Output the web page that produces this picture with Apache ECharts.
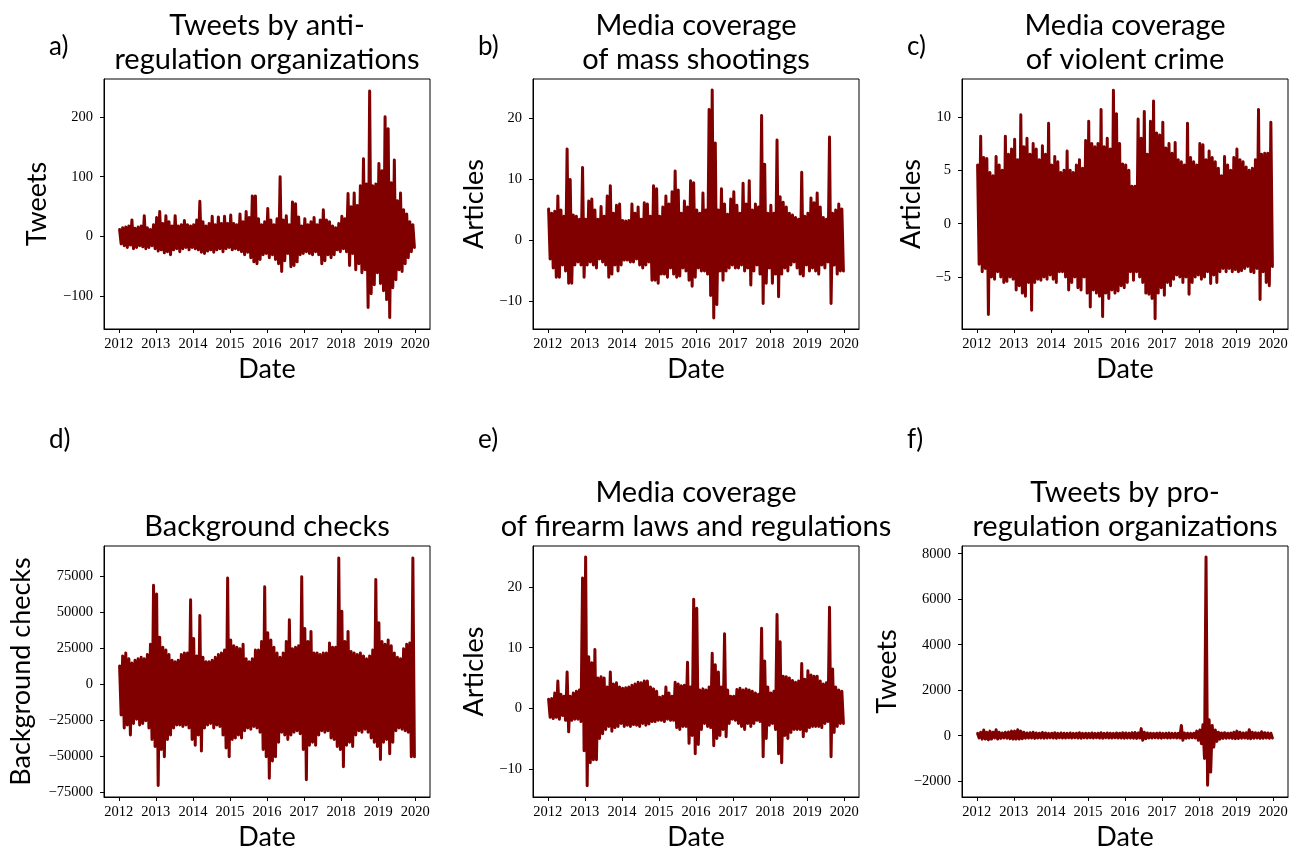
<!DOCTYPE html>
<html>
<head>
<meta charset="utf-8">
<title>Daily series, 2012-2020</title>
<script src="https://cdn.jsdelivr.net/npm/echarts@6/dist/echarts.min.js"></script>
<style>
  html, body { margin: 0; padding: 0; background: #fff; }
  #chart { width: 1301px; height: 854px; }
</style>
</head>
<body>
<div id="chart"></div>
<script>
// x tick labels (years)
const yearTicks = [2012, 2013, 2014, 2015, 2016, 2017, 2018, 2019, 2020];
const firstYear = 2012;

// monthly upper / lower envelope of each daily series, Jan 2012 .. Dec 2019
const antiTweetsHigh = [
  12, 15, 16, 18, 28, 14, 16, 18, 35, 15, 12, 20,
  32, 42, 22, 35, 25, 18, 35, 18, 20, 27, 20, 18,
  20, 28, 59, 25, 18, 22, 34, 20, 33, 22, 34, 22,
  36, 22, 20, 38, 25, 42, 32, 68, 68, 30, 20, 25,
  47, 28, 20, 30, 100, 28, 35, 20, 58, 55, 33, 18,
  30, 20, 25, 32, 20, 28, 45, 28, 25, 18, 15, 22,
  34, 30, 72, 50, 73, 52, 85, 130, 88, 243, 85, 88,
  122, 110, 200, 180, 90, 128, 60, 73, 45, 38, 25, 20
];
const antiTweetsLow = [
  -12, -15, -18, -14, -20, -18, -15, -17, -20, -18, -15, -20,
  -24, -22, -27, -25, -30, -22, -20, -25, -20, -18, -22, -18,
  -20, -22, -26, -28, -24, -22, -26, -22, -20, -25, -20, -18,
  -22, -20, -22, -25, -30, -26, -35, -42, -45, -38, -30, -28,
  -35, -30, -38, -45, -58, -40, -28, -50, -48, -42, -30, -28,
  -25, -28, -30, -25, -30, -45, -40, -30, -35, -30, -22, -25,
  -20, -25, -48, -28, -55, -45, -60, -55, -118, -95, -80, -60,
  -78, -90, -105, -135, -85, -72, -55, -58, -45, -35, -25, -18
];

const shootingsHigh = [
  5.2, 4.5, 4.8, 7.3, 5, 4, 15, 10, 4.2, 4, 3.5, 12,
  3.5, 6.5, 6.8, 5, 3.5, 5.6, 4, 7.3, 9, 4.5, 5.8, 6,
  3.3, 3.2, 3.3, 6, 4.5, 5.5, 3.5, 6.2, 6, 4, 9, 8.5,
  4, 5.5, 7.3, 6, 8, 11.4, 8.3, 4.5, 6.5, 5.5, 9.8, 9.5,
  5, 4.5, 7.8, 5, 21.5, 24.7, 16, 5, 8.5, 6, 4.3, 6.8,
  8, 5.8, 4.5, 9.4, 6, 9.8, 5, 6, 5.5, 20.5, 12.5, 4.5,
  5.8, 4.5, 16.5, 7.2, 6.3, 5.5, 4.5, 4.2, 3.8, 3.5, 11.2, 4,
  4.5, 7, 6.2, 7.8, 5.5, 3.8, 3.5, 17, 4.5, 5, 6, 5.2
];
const shootingsLow = [
  -3, -4.5, -6, -6, -4, -5, -7, -7, -4, -3.5, -4, -6,
  -4, -3.5, -4, -4.5, -3, -3.5, -4, -6, -5.5, -4, -5, -4,
  -3.2, -3.2, -3.5, -3.5, -3, -4, -4.5, -4, -3.5, -6.5, -6.5, -7,
  -5.5, -5.5, -6, -4.5, -5.5, -6, -5.8, -4.5, -5, -6.5, -7.5, -6,
  -4.5, -5, -5, -5.5, -9, -12.7, -10.5, -5, -6.5, -5, -4.5, -4,
  -4.5, -4.5, -4, -5, -4.5, -7.3, -5, -4, -5.5, -10.3, -7, -4.5,
  -7, -5.5, -9.2, -5.5, -4.5, -5, -4, -3.5, -4.5, -5.5, -5.8, -4,
  -5, -4.5, -5, -5.5, -4, -4.5, -3.5, -10.3, -4, -5.5, -5, -5
];

const crimeHigh = [
  5.5, 8.2, 6.2, 6.1, 4.8, 4.5, 6.3, 5.5, 5, 8.2, 6.5, 7,
  7.9, 6, 10.2, 7.2, 8, 6.5, 7.5, 7, 6, 7.3, 6.5, 9.4,
  5.5, 6.3, 5.8, 4.8, 5, 6.8, 5, 4.8, 5.5, 6, 5.2, 7.8,
  9.6, 7.5, 7.2, 7.5, 10.7, 7.2, 8, 7, 12.5, 10.3, 7.5, 5.6,
  5.5, 5, 3.5, 3.5, 9.8, 8, 10.5, 6.5, 9.6, 11.5, 8.5, 8.3,
  9.5, 7.1, 7.5, 6.6, 7.6, 6, 5.8, 5.5, 9.4, 6.2, 5.8, 5.5,
  7.5, 7.4, 6, 6.8, 6.2, 5.8, 5.2, 4.5, 6.3, 5.5, 5, 6.2,
  7, 6, 5.8, 5.3, 5, 5.2, 6, 10.7, 6.5, 6.6, 6.6, 9.5
];
const crimeLow = [
  -3.8, -4.5, -4.2, -8.5, -5, -5.2, -4.5, -5, -5.5, -5.4, -5, -5.2,
  -6.2, -5.8, -6.5, -6.8, -5.5, -8.1, -5.5, -5.2, -5.3, -5, -5.2, -4.8,
  -5.2, -5.5, -4.5, -4.5, -5, -6.2, -5.5, -5, -6, -6.2, -5, -6.5,
  -7.8, -6.2, -6.5, -6.8, -8.7, -6.5, -7, -6.2, -6.5, -6.3, -5.8, -6,
  -5.5, -4.5, -5.3, -4.5, -5, -5.5, -6.5, -6.6, -7, -8.9, -6.5, -6,
  -6.7, -5.5, -5.8, -5.2, -4.8, -5, -5.5, -5, -6.6, -5.5, -5, -4.8,
  -5.2, -5, -4.5, -5.6, -4.8, -5.5, -4.5, -4.2, -4.5, -4.2, -4.5, -4.3,
  -4.5, -4.4, -4.2, -4, -4.5, -4.6, -4.2, -7.1, -4.5, -5.5, -5.8, -4
];

const checksHigh = [
  13000, 20000, 22000, 18000, 15000, 17000, 18000, 19000, 18000, 21000, 28000, 69000,
  63000, 33000, 26000, 24000, 21000, 17000, 16000, 17000, 21000, 22000, 22000, 59000,
  32000, 20000, 48000, 19000, 16000, 16000, 17000, 19000, 21000, 22000, 24000, 74000,
  31000, 27000, 26000, 25000, 28000, 18000, 16000, 18000, 24000, 24000, 30000, 68000,
  36000, 31000, 26000, 22000, 19000, 22000, 30000, 45000, 25000, 26000, 27000, 75000,
  39000, 30000, 37000, 22000, 22000, 21000, 22000, 22000, 29000, 26000, 26000, 88000,
  51000, 30000, 37000, 23000, 22000, 21000, 22000, 20000, 18000, 20000, 24000, 73000,
  43000, 30000, 28000, 31000, 27000, 22000, 19000, 18000, 25000, 28000, 29000, 88000
];
const checksLow = [
  -21000, -30000, -28000, -35000, -27000, -24000, -28000, -27000, -25000, -30000, -38000, -43000,
  -70000, -45000, -50000, -38000, -35000, -30000, -28000, -28000, -29000, -28000, -30000, -38000,
  -42000, -35000, -46000, -30000, -28000, -27000, -30000, -28000, -29000, -35000, -44000, -50000,
  -38000, -37000, -35000, -37000, -32000, -30000, -31000, -29000, -30000, -33000, -45000, -50000,
  -65000, -53000, -50000, -40000, -33000, -35000, -38000, -35000, -33000, -32000, -34000, -45000,
  -66000, -42000, -40000, -42000, -35000, -32000, -33000, -32000, -37000, -38000, -43000, -45000,
  -57000, -42000, -40000, -43000, -35000, -32000, -33000, -31000, -33000, -37000, -40000, -43000,
  -52000, -40000, -38000, -48000, -40000, -32000, -30000, -31000, -32000, -33000, -50000, -50000
];

const lawsHigh = [
  1.5, 1.6, 2.5, 4.5, 2.3, 2, 6, 2, 2.5, 2.8, 3, 21.5,
  25, 8.5, 7.5, 9.7, 5, 5.2, 5, 3.5, 6, 4, 4.2, 3.5,
  3.3, 3.4, 3.5, 3.8, 4, 4.3, 4.2, 4.5, 4.5, 3.5, 3.2, 2.8,
  1.8, 2, 3.5, 2.5, 2, 4.3, 4, 3.7, 3.8, 7.6, 3.5, 18,
  16.5, 3, 3.2, 3, 3.5, 9.1, 7.2, 6, 3.5, 12.3, 3, 2,
  2, 3.1, 3.3, 3, 3.2, 3, 2.8, 2.5, 2.3, 13.2, 7.8, 3.5,
  2.5, 2.8, 15.5, 11, 5.3, 5.2, 5, 4.6, 4.3, 4.5, 7.4, 4.8,
  6.2, 5.5, 5.3, 5.3, 4.5, 4, 4.2, 16.7, 6.5, 3.5, 3, 2.8
];
const lawsLow = [
  -1.5, -1.7, -1.5, -1.8, -1.2, -2, -3.9, -2, -1.8, -1.8, -2.2, -7,
  -12.8, -9, -8.5, -8.5, -5, -4.2, -3.5, -3, -3.8, -3.2, -3, -2.5,
  -3, -2.8, -3, -2.7, -2.8, -3, -2.5, -2.8, -2.6, -2.2, -2.2, -2,
  -2, -2.2, -1.8, -2, -2, -3.2, -3.5, -3, -3, -5.8, -4.5, -7.5,
  -6, -3.5, -2.5, -3, -3.2, -6.2, -5, -4.5, -3.5, -4.7, -2.5, -1.8,
  -2, -2.5, -3, -3.5, -2.5, -3, -2.5, -2, -2.2, -8, -5, -2.8,
  -2.5, -3.5, -7.5, -9, -4.5, -5, -4, -3.5, -3.5, -3.5, -4.7, -3.8,
  -3.2, -3, -3, -3, -3.2, -2.5, -2.2, -8, -4, -3, -2.5, -2.5
];

const proTweetsHigh = [
  100, 150, 250, 150, 200, 150, 260, 150, 120, 150, 160, 200,
  200, 260, 200, 150, 120, 130, 150, 120, 110, 140, 120, 100,
  110, 130, 100, 120, 110, 100, 120, 100, 110, 130, 100, 110,
  100, 120, 100, 110, 130, 100, 120, 110, 100, 120, 110, 130,
  120, 110, 130, 140, 120, 310, 150, 120, 110, 100, 110, 120,
  100, 110, 120, 100, 110, 100, 450, 120, 110, 100, 110, 200,
  250, 480, 7850, 700, 450, 250, 150, 120, 130, 110, 120, 150,
  200, 150, 120, 130, 260, 150, 130, 120, 170, 130, 120, 110
];
const proTweetsLow = [
  -100, -150, -150, -180, -150, -100, -150, -120, -100, -110, -130, -150,
  -150, -150, -130, -110, -100, -100, -120, -100, -100, -110, -100, -90,
  -100, -110, -90, -100, -100, -90, -100, -90, -100, -110, -90, -100,
  -90, -100, -90, -100, -110, -90, -100, -100, -90, -100, -100, -110,
  -100, -100, -110, -120, -100, -200, -130, -100, -100, -90, -100, -110,
  -90, -100, -100, -90, -100, -100, -200, -110, -100, -90, -100, -200,
  -350, -1000, -2180, -1600, -500, -250, -150, -120, -110, -100, -120, -130,
  -120, -110, -100, -120, -130, -110, -100, -120, -110, -100, -110, -100
];

// y tick labels
const antiTicks = [-100, 0, 100, 200];
const shootingsTicks = [-10, 0, 10, 20];
const crimeTicks = [-5, 0, 5, 10];
const checksTicks = [-75000, -50000, -25000, 0, 25000, 50000, 75000];
const lawsTicks = [-10, 0, 10, 20];
const proTicks = [-2000, 0, 2000, 4000, 6000, 8000];

// each month: one point at its upper envelope, one at its lower
function toLine(high, low) {
  const pts = [];
  for (let m = 0; m < high.length; m++) {
    pts.push([firstYear + (m + 0.25) / 12, high[m]]);
    pts.push([firstYear + (m + 0.75) / 12, low[m]]);
  }
  return pts;
}

const lineColor = '#800000';
const sansFont = 'Lato';
const serifFont = 'Liberation Serif';

const panels = [
  { letter: 'a)', title: 'Tweets by anti-\nregulation organizations', yName: 'Tweets',
    high: antiTweetsHigh, low: antiTweetsLow, ticks: antiTicks, ymin: -154, ymax: 263,
    left: 104, top: 79, height: 250, yGap: 53 },
  { letter: 'b)', title: 'Media coverage\nof mass shootings', yName: 'Articles',
    high: shootingsHigh, low: shootingsLow, ticks: shootingsTicks, ymin: -14.5, ymax: 26.5,
    left: 533, top: 79, height: 250, yGap: 45 },
  { letter: 'c)', title: 'Media coverage\nof violent crime', yName: 'Articles',
    high: crimeHigh, low: crimeLow, ticks: crimeTicks, ymin: -9.86, ymax: 13.55,
    left: 962, top: 79, height: 250, yGap: 37 },
  { letter: 'd)', title: 'Background checks', yName: 'Background checks',
    high: checksHigh, low: checksLow, ticks: checksTicks, ymin: -78000, ymax: 96300,
    left: 104, top: 546, height: 251, yGap: 69 },
  { letter: 'e)', title: 'Media coverage\nof firearm laws and regulations', yName: 'Articles',
    high: lawsHigh, low: lawsLow, ticks: lawsTicks, ymin: -14.66, ymax: 26.8,
    left: 533, top: 546, height: 251, yGap: 45 },
  { letter: 'f)', title: 'Tweets by pro-\nregulation organizations', yName: 'Tweets',
    high: proTweetsHigh, low: proTweetsLow, ticks: proTicks, ymin: -2695, ymax: 8338,
    left: 962, top: 546, height: 251, yGap: 61 }
];

const plotWidth = 326;
const minusSign = v => String(v).replace('-', '\u2212');

const grids = [], xAxes = [], yAxes = [], series = [], graphics = [];

panels.forEach((p, i) => {
  grids.push({
    left: p.left, top: p.top, width: plotWidth, height: p.height,
    show: true, borderColor: '#000', borderWidth: 1, backgroundColor: 'transparent'
  });
  xAxes.push({
    type: 'value', gridIndex: i, min: 2011.6, max: 2020.4,
    axisLine: { show: true, onZero: false, lineStyle: { color: '#000', width: 1 } },
    axisTick: { show: true, customValues: yearTicks, length: 4, lineStyle: { color: '#000' } },
    axisLabel: { customValues: yearTicks, formatter: v => String(v), fontFamily: serifFont,
      fontSize: 14.5, color: '#000', margin: 8 },
    splitLine: { show: false },
    name: 'Date', nameLocation: 'middle', nameGap: 27,
    nameTextStyle: { fontFamily: sansFont, fontSize: 27, color: '#000' }
  });
  yAxes.push({
    type: 'value', gridIndex: i, min: p.ymin, max: p.ymax,
    axisLine: { show: true, onZero: false, lineStyle: { color: '#000', width: 1 } },
    axisTick: { show: true, customValues: p.ticks, length: 4, lineStyle: { color: '#000' } },
    axisLabel: { customValues: p.ticks, formatter: minusSign, fontFamily: serifFont,
      fontSize: 14.5, color: '#000', margin: 11 },
    splitLine: { show: false },
    name: p.yName, nameLocation: 'middle', nameGap: p.yGap,
    nameTextStyle: { fontFamily: sansFont, fontSize: 27, color: '#000' }
  });
  series.push({
    type: 'line', xAxisIndex: i, yAxisIndex: i,
    data: toLine(p.high, p.low),
    showSymbol: false, sampling: null, silent: true,
    lineStyle: { color: lineColor, width: 3, join: 'round', cap: 'round' }
  });

  const cx = p.left + plotWidth / 2;
  graphics.push({
    type: 'text', x: cx, y: p.top - 2,
    style: { text: p.title, fill: '#000', font: '29px ' + sansFont, lineHeight: 34,
      textAlign: 'center', textVerticalAlign: 'bottom' }
  });
  graphics.push({
    type: 'text', x: p.left - 55, y: i < 3 ? 60 : 453,
    style: { text: p.letter, fill: '#000', font: '26px ' + sansFont,
      textAlign: 'left', textVerticalAlign: 'bottom' }
  });
});

const chart = echarts.init(document.getElementById('chart'), null, { renderer: 'canvas' });
chart.setOption({
  animation: false,
  backgroundColor: '#fff',
  grid: grids,
  xAxis: xAxes,
  yAxis: yAxes,
  series: series,
  graphic: graphics
});
</script>
</body>
</html>
